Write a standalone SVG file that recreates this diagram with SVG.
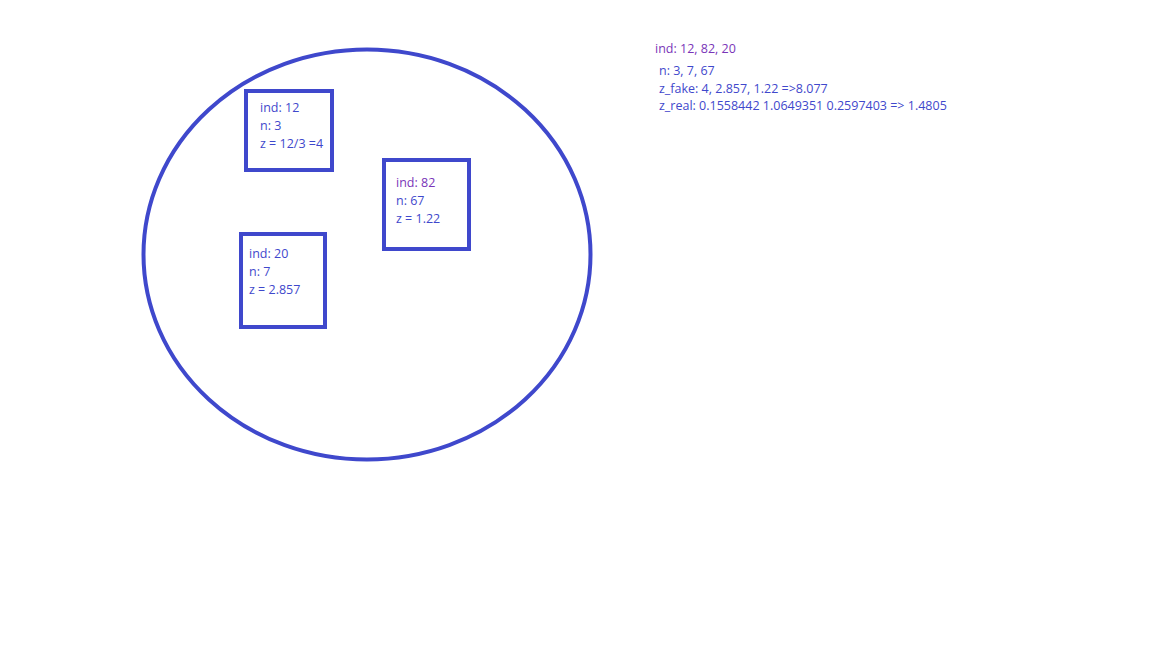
<svg xmlns="http://www.w3.org/2000/svg" width="1152" height="648" viewBox="0 0 1152 648">
<style>
.shape{fill:none;stroke:#3f48cc;stroke-width:4}
.box{fill:#fff;stroke:#3f48cc;stroke-width:4}
text{font-family:"Open Sans","Noto Sans","Liberation Sans",sans-serif;font-size:12.5px;fill:#3f48cc}
.p{fill:#7a35b8}
</style>
<rect width="1152" height="648" fill="#fff"/>
<g id="set">
<ellipse class="shape" cx="367" cy="254.5" rx="223.5" ry="205"/>
</g>
<g id="node-12">
<rect class="box" x="246" y="91" width="86" height="79"/>
<text x="260" y="112">ind: 12</text>
<text x="260" y="130">n: 3</text>
<text x="260" y="148">z = 12/3 =4</text>
</g>
<g id="node-82">
<rect class="box" x="384" y="160" width="85" height="89"/>
<text class="p" x="396" y="187">ind: 82</text>
<text x="396" y="205">n: 67</text>
<text x="396" y="223">z = 1.22</text>
</g>
<g id="node-20">
<rect class="box" x="241" y="234" width="84" height="93"/>
<text x="249" y="258">ind: 20</text>
<text x="249" y="276">n: 7</text>
<text x="249" y="294">z = 2.857</text>
</g>
<g id="summary">
<text class="p" x="655" y="53">ind: 12, 82, 20</text>
<text x="659" y="75">n: 3, 7, 67</text>
<text x="659" y="93">z_fake: 4, 2.857, 1.22 =&gt;8.077</text>
<text x="659" y="110">z_real: 0.1558442 1.0649351 0.2597403 =&gt; 1.4805</text>
</g>
<g id="connectors"/>
</svg>
